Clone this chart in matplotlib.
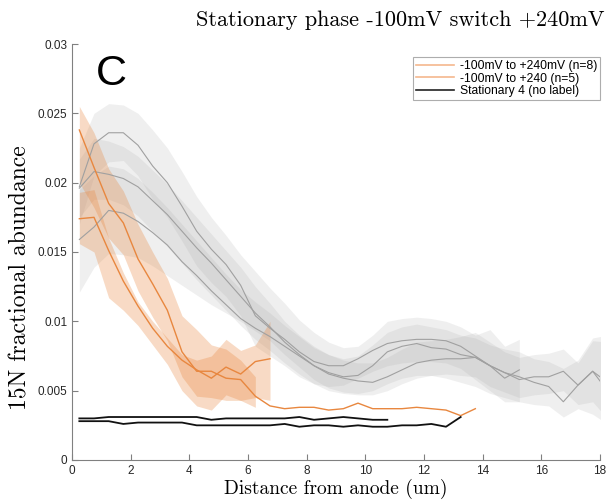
import numpy as np
import matplotlib
matplotlib.use("Agg")
import matplotlib.pyplot as plt
from matplotlib.lines import Line2D

# distance samples (um), half-micron bins
xAll = np.arange(0.25, 18.5, 0.5)

# orange: -100mV to +240mV (n=8)
o1 = [0.0238, 0.0211, 0.0185, 0.0171, 0.0145, 0.0127, 0.0108, 0.0078, 0.0064, 0.0064,
      0.0059, 0.0058, 0.0046, 0.0039, 0.0037, 0.0038, 0.0038, 0.0036, 0.0037, 0.0041,
      0.0037, 0.0037, 0.0037, 0.0038, 0.0037, 0.0036, 0.0032, 0.0037]
o1Hi = [0.0255, 0.0236, 0.0210, 0.0194, 0.0170, 0.0150, 0.0131, 0.0104, 0.0094, 0.0083,
        0.0080, 0.0072, 0.0060]
o1Lo = [0.0200, 0.0182, 0.0160, 0.0148, 0.0122, 0.0103, 0.0086, 0.0060, 0.0046, 0.0045,
        0.0043, 0.0043, 0.0038]
# orange: -100mV to +240 (n=5)
o2 = [0.0174, 0.0175, 0.0151, 0.0129, 0.0111, 0.0095, 0.0082, 0.0072, 0.0065, 0.0059,
      0.0067, 0.0062, 0.0071, 0.0073]
o2Hi = [0.0193, 0.0195, 0.0160, 0.0135, 0.0114, 0.0100, 0.0088, 0.0076, 0.0072, 0.0075,
        0.0087, 0.0079, 0.0083, 0.0100]
o2Lo = [0.0156, 0.0150, 0.0117, 0.0108, 0.0097, 0.0083, 0.0069, 0.0050, 0.0039, 0.0036,
        0.0047, 0.0043, 0.0045, 0.0043]

# gray stationary profiles
g1 = [0.0197, 0.0228, 0.0236, 0.0236, 0.0227, 0.0212, 0.0200, 0.0183, 0.0165, 0.0152,
      0.0141, 0.0126, 0.0104, 0.0095, 0.0087, 0.0078, 0.0071, 0.0068, 0.0068, 0.0073,
      0.0079, 0.0084, 0.0086, 0.0087, 0.0087, 0.0086, 0.0082, 0.0075, 0.0068, 0.0059, 0.0065]
g1Hi = [0.0225, 0.0250, 0.0257, 0.0256, 0.0250, 0.0238, 0.0225, 0.0208, 0.0190, 0.0175,
        0.0162, 0.0148, 0.0136, 0.0124, 0.0113, 0.0101, 0.0092, 0.0085, 0.0081, 0.0082,
        0.0090, 0.0100, 0.0102, 0.0103, 0.0102, 0.0100, 0.0096, 0.0090, 0.0094, 0.0082, 0.0087]
g1Lo = [0.0170, 0.0205, 0.0215, 0.0216, 0.0205, 0.0188, 0.0175, 0.0158, 0.0140, 0.0128,
        0.0118, 0.0104, 0.0082, 0.0075, 0.0068, 0.0060, 0.0055, 0.0053, 0.0054, 0.0059,
        0.0064, 0.0068, 0.0070, 0.0071, 0.0071, 0.0070, 0.0066, 0.0058, 0.0050, 0.0042, 0.0042]

g2 = [0.0196, 0.0208, 0.0206, 0.0203, 0.0197, 0.0187, 0.0177, 0.0165, 0.0153, 0.0142,
      0.0130, 0.0118, 0.0106, 0.0096, 0.0085, 0.0076, 0.0068, 0.0062, 0.0059, 0.0057,
      0.0056, 0.0060, 0.0065, 0.0070, 0.0072, 0.0073, 0.0073, 0.0074, 0.0068, 0.0063,
      0.0058, 0.0060, 0.0060, 0.0064, 0.0054, 0.0064, 0.0050]
g2Hi = [0.0217, 0.0232, 0.0230, 0.0226, 0.0219, 0.0209, 0.0199, 0.0187, 0.0175, 0.0163,
        0.0151, 0.0139, 0.0125, 0.0113, 0.0100, 0.0090, 0.0082, 0.0076, 0.0072, 0.0070,
        0.0070, 0.0074, 0.0080, 0.0085, 0.0086, 0.0087, 0.0089, 0.0092, 0.0085, 0.0078,
        0.0074, 0.0076, 0.0077, 0.0080, 0.0070, 0.0086, 0.0085]
g2Lo = [0.0175, 0.0188, 0.0188, 0.0184, 0.0176, 0.0165, 0.0154, 0.0142, 0.0130, 0.0119,
        0.0108, 0.0097, 0.0087, 0.0079, 0.0070, 0.0062, 0.0055, 0.0050, 0.0048, 0.0047,
        0.0047, 0.0050, 0.0055, 0.0059, 0.0061, 0.0062, 0.0061, 0.0060, 0.0053, 0.0049,
        0.0045, 0.0047, 0.0048, 0.0050, 0.0040, 0.0042, 0.0030]

g3 = [0.0159, 0.0168, 0.0180, 0.0178, 0.0172, 0.0164, 0.0155, 0.0143, 0.0133, 0.0122,
      0.0112, 0.0102, 0.0095, 0.0089, 0.0082, 0.0075, 0.0068, 0.0063, 0.0060, 0.0061,
      0.0068, 0.0078, 0.0082, 0.0084, 0.0081, 0.0080, 0.0076, 0.0074, 0.0068, 0.0063,
      0.0060, 0.0056, 0.0053, 0.0042, 0.0054, 0.0064, 0.0056]
g3Hi = [0.0195, 0.0205, 0.0212, 0.0210, 0.0203, 0.0193, 0.0182, 0.0170, 0.0158, 0.0146,
        0.0134, 0.0123, 0.0114, 0.0106, 0.0097, 0.0089, 0.0081, 0.0076, 0.0073, 0.0075,
        0.0083, 0.0092, 0.0096, 0.0098, 0.0096, 0.0094, 0.0090, 0.0088, 0.0083, 0.0080,
        0.0078, 0.0073, 0.0071, 0.0066, 0.0072, 0.0088, 0.0090]
g3Lo = [0.0121, 0.0139, 0.0149, 0.0148, 0.0146, 0.0140, 0.0133, 0.0126, 0.0119, 0.0112,
        0.0106, 0.0100, 0.0093, 0.0086, 0.0076, 0.0067, 0.0058, 0.0052, 0.0049, 0.0048,
        0.0050, 0.0055, 0.0059, 0.0061, 0.0061, 0.0059, 0.0056, 0.0053, 0.0048, 0.0045,
        0.0042, 0.0040, 0.0039, 0.0031, 0.0037, 0.0033, 0.0026]

# black stationary 4 traces
k1 = [0.0030, 0.0030, 0.0031, 0.0031, 0.0031, 0.0031, 0.0031, 0.0031, 0.0031, 0.0029,
      0.0030, 0.0030, 0.0030, 0.0030, 0.0030, 0.0031, 0.0029, 0.0030, 0.0031, 0.0030,
      0.0029, 0.0029]
k2 = [0.0028, 0.0028, 0.0028, 0.0026, 0.0027, 0.0027, 0.0027, 0.0027, 0.0025, 0.0025,
      0.0025, 0.0025, 0.0025, 0.0025, 0.0026, 0.0024, 0.0025, 0.0025, 0.0024, 0.0025,
      0.0024, 0.0024, 0.0025, 0.0025, 0.0026, 0.0024, 0.0031]

legendLabels = ["-100mV to +240mV (n=8)", "-100mV to +240 (n=5)", "Stationary 4 (no label)"]

colOrange = "#E8873F"
colGray = "#A0A0A0"

fig = plt.figure(figsize=(6.08, 5.0), dpi=100)
ax = fig.add_axes([72/608, 40/500, 528/608, 416/500])

for lo, hi in [(g1Lo, g1Hi), (g2Lo, g2Hi), (g3Lo, g3Hi)]:
    xx = xAll[:len(lo)]
    ax.fill_between(xx, lo, hi, color="#A8A8A8", alpha=0.18, linewidth=0)
for lo, hi in [(o1Lo, o1Hi), (o2Lo, o2Hi)]:
    xx = xAll[:len(lo)]
    ax.fill_between(xx, lo, hi, color=colOrange, alpha=0.3, linewidth=0)

for m in [g1, g2, g3]:
    ax.plot(xAll[:len(m)], m, color=colGray, lw=0.8)
ax.plot(xAll[:len(o1)], o1, color=colOrange, lw=1.0)
ax.plot(xAll[:len(o2)], o2, color=colOrange, lw=1.0)
ax.plot(xAll[:len(k1)], k1, color="#111111", lw=1.3)
ax.plot(xAll[:len(k2)], k2, color="#111111", lw=1.3)

ax.set_xlim(0, 18)
ax.set_ylim(0, 0.03)
ax.set_xticks(np.arange(0, 19, 2))
ax.set_yticks([0, 0.005, 0.01, 0.015, 0.02, 0.025, 0.03])
ax.set_yticklabels(["0", "0.005", "0.01", "0.015", "0.02", "0.025", "0.03"])
for s in ["top", "right"]:
    ax.spines[s].set_visible(False)
for s in ["left", "bottom"]:
    ax.spines[s].set_color("#808080")
    ax.spines[s].set_linewidth(0.8)
ax.tick_params(direction="in", length=4, width=0.8, color="#808080",
               labelsize=8.5, labelcolor="#262626")
for lab in ax.get_xticklabels() + ax.get_yticklabels():
    lab.set_family("Liberation Sans")

handles = [Line2D([], [], color="#F5B88E", lw=1.2),
           Line2D([], [], color="#F5B88E", lw=1.2),
           Line2D([], [], color="#222222", lw=1.2)]
leg = ax.legend(handles, legendLabels, loc="upper right", bbox_to_anchor=(1.0, 0.969),
                borderaxespad=0, fancybox=False, handlelength=3.1, handletextpad=0.5,
                labelspacing=0.05, borderpad=0.25,
                prop={"family": "Liberation Sans", "size": 8.7})
leg.get_frame().set_edgecolor("#999999")
leg.get_frame().set_linewidth(0.8)

fig.text(111/608, 1 - 74/500, "C", fontsize=31, family="Liberation Sans",
         ha="center", va="center")
fig.text(400/608, 1 - 20/500, "Stationary phase -100mV switch +240mV",
         family="cmr10", fontsize=16, ha="center", va="center")
fig.text(336/608, 1 - 489/500, "Distance from anode (um)", family="cmr10",
         fontsize=14, ha="center", va="center")
fig.text(20/608, 1 - 278/500, "15N fractional abundance", family="cmr10",
         fontsize=17, ha="center", va="center", rotation=90)

fig.savefig("out.png", dpi=100)
